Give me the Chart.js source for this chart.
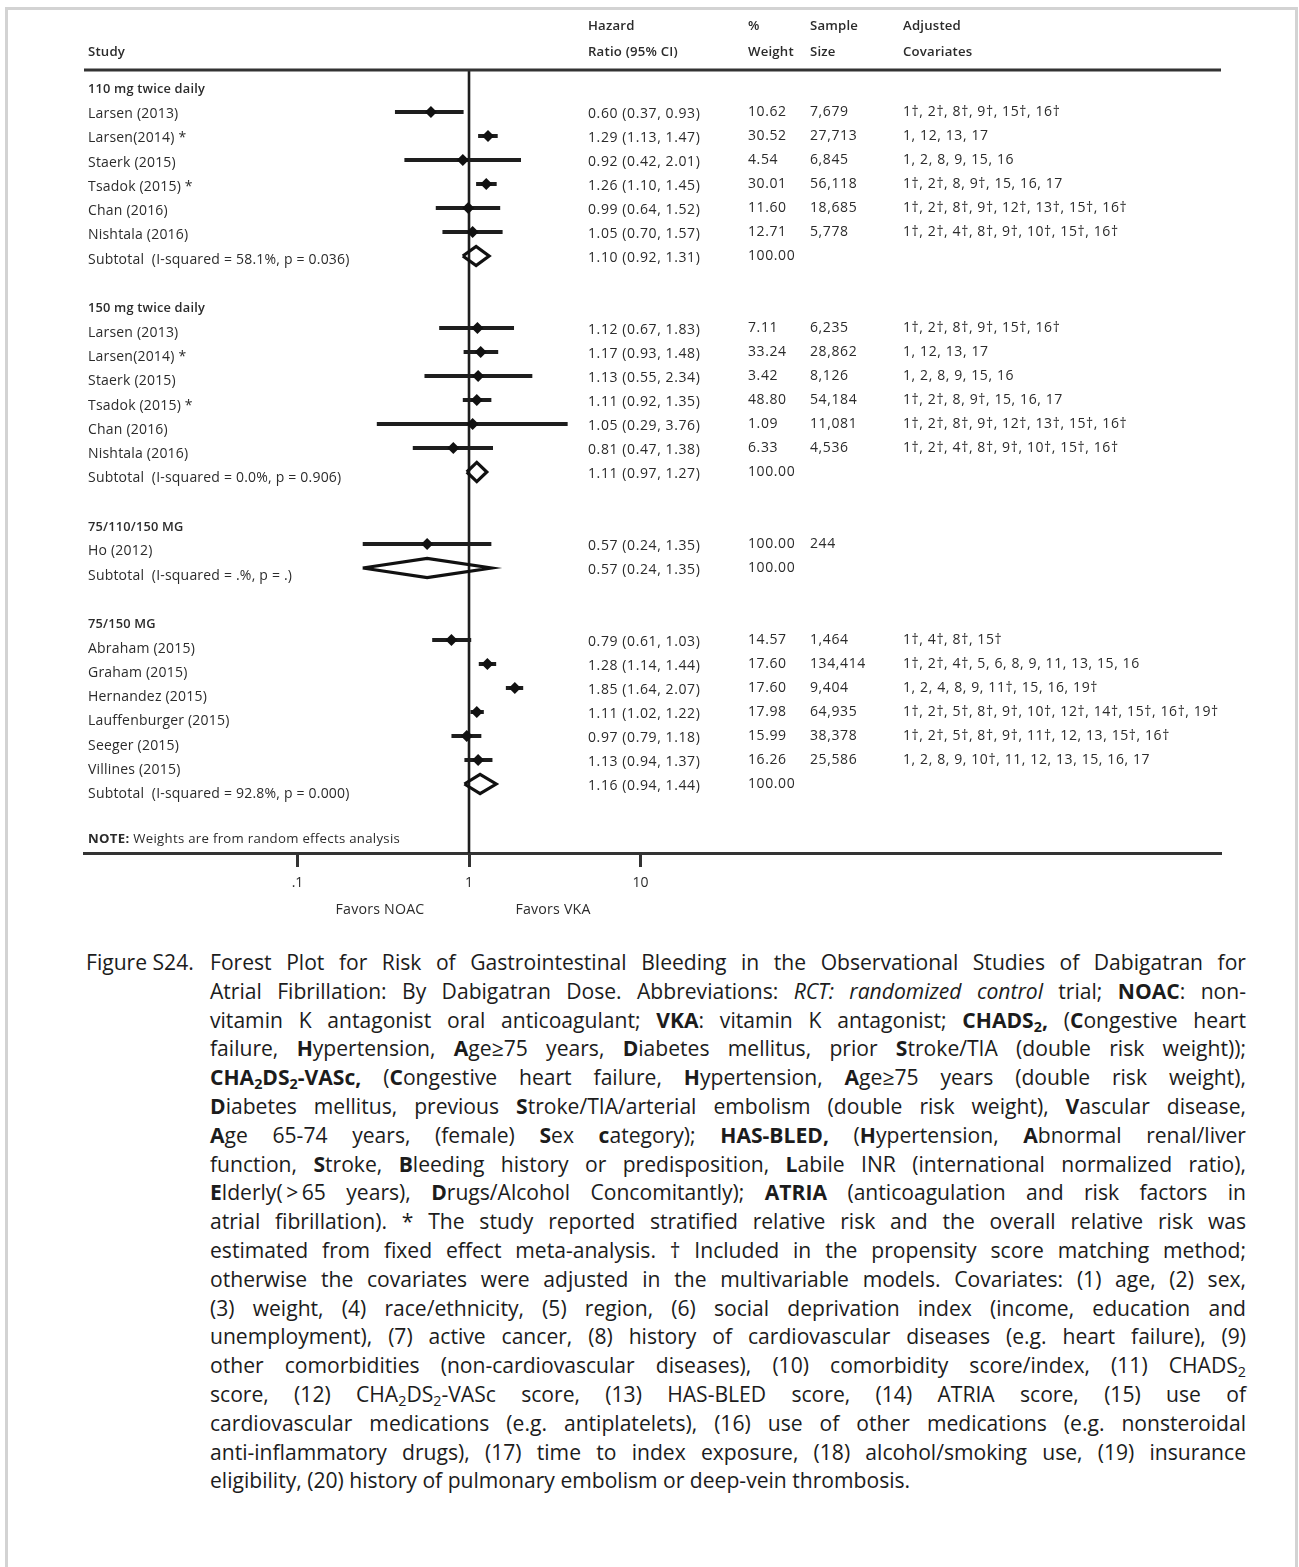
<!DOCTYPE html>
<html>
<head>
<meta charset="utf-8">
<script src="https://cdn.jsdelivr.net/npm/chart.js@4.4.1/dist/chart.umd.min.js"></script>
<style>
html,body{margin:0;padding:0;background:#fff;}
body{width:1299px;height:1567px;position:relative;overflow:hidden;font-family:"Open Sans",Lato,sans-serif;}
#frame{position:absolute;left:5px;top:7px;width:1293px;height:1620px;border:3px solid #d3d3d3;border-bottom:none;box-sizing:border-box;}
#chartCanvas{position:absolute;left:0;top:0;}
#caption{position:absolute;left:86px;top:948px;width:1160px;font-size:21.1px;color:#1c1c1c;line-height:28.8px;}
#caption .fig{position:absolute;left:0;top:0;white-space:nowrap;}
#caption .lines{position:absolute;left:124px;top:0;width:1036px;}
#caption .ln{display:block;width:max-content;white-space:nowrap;}
#caption b{font-weight:700;}
#caption sub{font-size:68%;vertical-align:-0.28em;line-height:0;}
</style>
</head>
<body>
<div id="frame"></div>
<canvas id="chartCanvas" width="1299" height="935"></canvas>
<div id="caption">
  <div class="fig">Figure S24.</div>
  <div class="lines">
    <span class="ln">Forest Plot for Risk of Gastrointestinal Bleeding in the Observational Studies of Dabigatran for</span>
    <span class="ln">Atrial Fibrillation: By Dabigatran Dose. Abbreviations: <i>RCT: randomized control</i> trial; <b>NOAC</b>: non-</span>
    <span class="ln">vitamin K antagonist oral anticoagulant; <b>VKA</b>: vitamin K antagonist; <b>CHADS<sub>2</sub>,</b> (<b>C</b>ongestive heart</span>
    <span class="ln">failure, <b>H</b>ypertension, <b>A</b>ge≥75 years, <b>D</b>iabetes mellitus, prior <b>S</b>troke/TIA (double risk weight));</span>
    <span class="ln"><b>CHA<sub>2</sub>DS<sub>2</sub>-VASc,</b> (<b>C</b>ongestive heart failure, <b>H</b>ypertension, <b>A</b>ge≥75 years (double risk weight),</span>
    <span class="ln"><b>D</b>iabetes mellitus, previous <b>S</b>troke/TIA/arterial embolism (double risk weight), <b>V</b>ascular disease,</span>
    <span class="ln"><b>A</b>ge 65-74 years, (female) <b>S</b>ex <b>c</b>ategory); <b>HAS-BLED,</b> (<b>H</b>ypertension, <b>A</b>bnormal renal/liver</span>
    <span class="ln">function, <b>S</b>troke, <b>B</b>leeding history or predisposition, <b>L</b>abile INR (international normalized ratio),</span>
    <span class="ln"><b>E</b>lderly(&thinsp;&gt;&thinsp;65 years), <b>D</b>rugs/Alcohol Concomitantly); <b>ATRIA</b> (anticoagulation and risk factors in</span>
    <span class="ln">atrial fibrillation). * The study reported stratified relative risk and the overall relative risk was</span>
    <span class="ln">estimated from fixed effect meta-analysis. † Included in the propensity score matching method;</span>
    <span class="ln">otherwise the covariates were adjusted in the multivariable models. Covariates: (1) age, (2) sex,</span>
    <span class="ln">(3) weight, (4) race/ethnicity, (5) region, (6) social deprivation index (income, education and</span>
    <span class="ln">unemployment), (7) active cancer, (8) history of cardiovascular diseases (e.g. heart failure), (9)</span>
    <span class="ln">other comorbidities (non-cardiovascular diseases), (10) comorbidity score/index, (11) CHADS<sub>2</sub></span>
    <span class="ln">score, (12) CHA<sub>2</sub>DS<sub>2</sub>-VASc score, (13) HAS-BLED score, (14) ATRIA score, (15) use of</span>
    <span class="ln">cardiovascular medications (e.g. antiplatelets), (16) use of other medications (e.g. nonsteroidal</span>
    <span class="ln">anti-inflammatory drugs), (17) time to index exposure, (18) alcohol/smoking use, (19) insurance</span>
    <span class="ln last">eligibility, (20) history of pulmonary embolism or deep-vein thrombosis.</span>
  </div>
</div>
<script>
// ---------------- DATA ----------------
const groupNames = ['110 mg twice daily', '150 mg twice daily', '75/110/150 MG', '75/150 MG'];
const studyGroup = [0,0,0,0,0,0, 1,1,1,1,1,1, 2, 3,3,3,3,3,3];
const studyNames = [
  'Larsen (2013)', 'Larsen(2014) *', 'Staerk (2015)', 'Tsadok (2015) *', 'Chan (2016)', 'Nishtala (2016)',
  'Larsen (2013)', 'Larsen(2014) *', 'Staerk (2015)', 'Tsadok (2015) *', 'Chan (2016)', 'Nishtala (2016)',
  'Ho (2012)',
  'Abraham (2015)', 'Graham (2015)', 'Hernandez (2015)', 'Lauffenburger (2015)', 'Seeger (2015)', 'Villines (2015)'
];
const hazardRatio = [0.60,1.29,0.92,1.26,0.99,1.05, 1.12,1.17,1.13,1.11,1.05,0.81, 0.57, 0.79,1.28,1.85,1.11,0.97,1.13];
const ciLower     = [0.37,1.13,0.42,1.10,0.64,0.70, 0.67,0.93,0.55,0.92,0.29,0.47, 0.24, 0.61,1.14,1.64,1.02,0.79,0.94];
const ciUpper     = [0.93,1.47,2.01,1.45,1.52,1.57, 1.83,1.48,2.34,1.35,3.76,1.38, 1.35, 1.03,1.44,2.07,1.22,1.18,1.37];
const weightPct   = ['10.62','30.52','4.54','30.01','11.60','12.71', '7.11','33.24','3.42','48.80','1.09','6.33', '100.00', '14.57','17.60','17.60','17.98','15.99','16.26'];
const sampleSize  = ['7,679','27,713','6,845','56,118','18,685','5,778', '6,235','28,862','8,126','54,184','11,081','4,536', '244', '1,464','134,414','9,404','64,935','38,378','25,586'];
const covariates  = [
  '1†, 2†, 8†, 9†, 15†, 16†',
  '1, 12, 13, 17',
  '1, 2, 8, 9, 15, 16',
  '1†, 2†, 8, 9†, 15, 16, 17',
  '1†, 2†, 8†, 9†, 12†, 13†, 15†, 16†',
  '1†, 2†, 4†, 8†, 9†, 10†, 15†, 16†',
  '1†, 2†, 8†, 9†, 15†, 16†',
  '1, 12, 13, 17',
  '1, 2, 8, 9, 15, 16',
  '1†, 2†, 8, 9†, 15, 16, 17',
  '1†, 2†, 8†, 9†, 12†, 13†, 15†, 16†',
  '1†, 2†, 4†, 8†, 9†, 10†, 15†, 16†',
  '',
  '1†, 4†, 8†, 15†',
  '1†, 2†, 4†, 5, 6, 8, 9, 11, 13, 15, 16',
  '1, 2, 4, 8, 9, 11†, 15, 16, 19†',
  '1†, 2†, 5†, 8†, 9†, 10†, 12†, 14†, 15†, 16†, 19†',
  '1†, 2†, 5†, 8†, 9†, 11†, 12, 13, 15†, 16†',
  '1, 2, 8, 9, 10†, 11, 12, 13, 15, 16, 17'
];
const subtotalLabels = [
  'Subtotal  (I-squared = 58.1%, p = 0.036)',
  'Subtotal  (I-squared = 0.0%, p = 0.906)',
  'Subtotal  (I-squared = .%, p = .)',
  'Subtotal  (I-squared = 92.8%, p = 0.000)'
];
const subtotalHR     = [1.10, 1.11, 0.57, 1.16];
const subtotalLower  = [0.92, 0.97, 0.24, 0.94];
const subtotalUpper  = [1.31, 1.27, 1.35, 1.44];
const subtotalWeight = ['100.00','100.00','100.00','100.00'];
const xTickValues = [0.1, 1, 10];
const xTickLabels = ['.1', '1', '10'];
const headerLine1 = ['', 'Hazard', '%', 'Sample', 'Adjusted'];
const headerLine2 = ['Study', 'Ratio (95% CI)', 'Weight', 'Size', 'Covariates'];
const noteBold = 'NOTE:';
const noteText = ' Weights are from random effects analysis';
const favorsLeft = 'Favors NOAC';
const favorsRight = 'Favors VKA';

// ---------------- ROW LAYOUT ----------------
const rowOfStudy = [];
const rowOfGroupHeader = [];
const rowOfSubtotal = [];
let r = 0;
groupNames.forEach((g, gi) => {
  rowOfGroupHeader.push(r); r++;
  studyGroup.forEach((sg, si) => { if (sg === gi) { rowOfStudy[si] = r; r++; } });
  rowOfSubtotal.push(r); r++;
  r++; // blank row
});
const noteRow = r;

const ROW_MIN = -0.75, ROW_MAX = 31.875;
const X_MIN = 0.005689, X_MAX = 24255;
const INK = '#1e1e1e';
const TXT = '#2b2b2b';
const FONT = '"Open Sans", Lato, sans-serif';

const fmt = v => v.toFixed(2);

// ---------------- DATASETS ----------------
const datasets = [];
datasets.push({
  label: 'studies',
  data: hazardRatio.map((v, i) => ({x: v, y: rowOfStudy[i]})),
  showLine: false,
  pointStyle: 'rectRot',
  pointRadius: 6,
  pointHoverRadius: 6,
  backgroundColor: '#111',
  borderColor: '#111',
  borderWidth: 0
});
hazardRatio.forEach((v, i) => {
  datasets.push({
    label: 'ci' + i,
    data: [{x: ciLower[i], y: rowOfStudy[i]}, {x: ciUpper[i], y: rowOfStudy[i]}],
    showLine: true, pointRadius: 0, borderColor: INK, borderWidth: 4, borderCapStyle: 'butt'
  });
});
subtotalHR.forEach((v, i) => {
  const k = rowOfSubtotal[i], h = 0.4;
  datasets.push({
    label: 'sub' + i,
    data: [
      {x: subtotalLower[i], y: k}, {x: v, y: k - h}, {x: subtotalUpper[i], y: k},
      {x: v, y: k + h}, {x: subtotalLower[i], y: k}
    ],
    showLine: true, pointRadius: 0, borderColor: '#111', borderWidth: 3.2,
    borderJoinStyle: 'miter', fill: false, tension: 0
  });
});
datasets.push({
  label: 'null',
  data: [{x: 1, y: ROW_MIN}, {x: 1, y: ROW_MAX}],
  showLine: true, pointRadius: 0, borderColor: INK, borderWidth: 2.6
});

// ---------------- TEXT PLUGIN ----------------
const tablePlugin = {
  id: 'tablePlugin',
  afterDraw(chart) {
    const ctx = chart.ctx, xs = chart.scales.x, ys = chart.scales.y, ca = chart.chartArea;
    const colX = [88, 588, 748, 810, 903];
    const rowY = k => ys.getPixelForValue(k);
    const labY = k => rowY(k) + 2 + (k - 1) * 0.3;
    const spacing = s => { if ('letterSpacing' in ctx) ctx.letterSpacing = s; };
    ctx.save();
    // header line
    ctx.strokeStyle = '#333'; ctx.lineWidth = 3;
    ctx.beginPath(); ctx.moveTo(ca.left, ca.top); ctx.lineTo(ca.right, ca.top); ctx.stroke();

    ctx.textBaseline = 'middle'; ctx.textAlign = 'left';
    ctx.fillStyle = TXT;
    // headers
    spacing('0.2px');
    ctx.font = '600 13.2px ' + FONT;
    headerLine1.forEach((t, i) => { if (t) ctx.fillText(t, colX[i], ca.top - 44); });
    headerLine2.forEach((t, i) => { if (t) ctx.fillText(t, colX[i], ca.top - 18); });
    // group headers
    ctx.font = '600 12.8px ' + FONT;
    groupNames.forEach((g, gi) => { ctx.fillText(g, colX[0], labY(rowOfGroupHeader[gi])); });
    // study labels
    ctx.font = '14px ' + FONT;
    spacing('0.2px');
    studyNames.forEach((n, i) => ctx.fillText(n, colX[0], labY(rowOfStudy[i])));
    subtotalLabels.forEach((t, i) => ctx.fillText(t, colX[0], labY(rowOfSubtotal[i])));
    // data columns
    spacing('0.6px');
    studyNames.forEach((n, i) => {
      const k = rowOfStudy[i];
      ctx.fillText(fmt(hazardRatio[i]) + ' (' + fmt(ciLower[i]) + ', ' + fmt(ciUpper[i]) + ')', colX[1], rowY(k) + 2);
      ctx.fillText(weightPct[i], colX[2], rowY(k));
      ctx.fillText(sampleSize[i], colX[3], rowY(k));
      ctx.fillText(covariates[i], colX[4], rowY(k));
    });
    subtotalLabels.forEach((t, i) => {
      const k = rowOfSubtotal[i];
      ctx.fillText(fmt(subtotalHR[i]) + ' (' + fmt(subtotalLower[i]) + ', ' + fmt(subtotalUpper[i]) + ')', colX[1], rowY(k) + 2);
      ctx.fillText(subtotalWeight[i], colX[2], rowY(k));
    });
    // note
    spacing('0.3px');
    ctx.font = '700 13.2px ' + FONT;
    const ny = labY(noteRow) - 4;
    ctx.fillText(noteBold, colX[0], ny);
    const bw = ctx.measureText(noteBold).width;
    ctx.font = '13.2px ' + FONT;
    ctx.fillText(noteText, colX[0] + bw, ny);
    // favors
    spacing('0.2px');
    ctx.font = '14.2px ' + FONT;
    ctx.textAlign = 'center';
    const x1 = xs.getPixelForValue(1);
    ctx.fillText(favorsLeft, x1 - 89, ca.bottom + 57);
    ctx.fillText(favorsRight, x1 + 84, ca.bottom + 57);
    spacing('0px');
    ctx.restore();
  }
};

new Chart(document.getElementById('chartCanvas'), {
  type: 'scatter',
  data: { datasets },
  options: {
    responsive: false,
    animation: false,
    devicePixelRatio: 1,
    layout: { padding: { left: 84, right: 78, top: 70, bottom: 22 } },
    plugins: { legend: { display: false }, tooltip: { enabled: false } },
    scales: {
      x: {
        type: 'logarithmic', position: 'bottom', min: X_MIN, max: X_MAX,
        afterBuildTicks: s => { s.ticks = xTickValues.map(v => ({ value: v })); },
        afterFit: s => { s.height = 60; },
        ticks: {
          callback: (v, i) => xTickLabels[i],
          font: { family: FONT, size: 14 }, color: TXT, padding: 8,
          maxRotation: 0, autoSkip: false
        },
        grid: { display: true, drawOnChartArea: false, drawTicks: true, tickLength: 14, tickWidth: 3, tickColor: '#333' },
        border: { display: true, width: 3, color: '#333' }
      },
      y: { type: 'linear', reverse: true, min: ROW_MIN, max: ROW_MAX, display: false }
    }
  },
  plugins: [tablePlugin]
});

// ---------------- CAPTION JUSTIFICATION ----------------
const LINE_W = 1036;
document.querySelectorAll('#caption .ln').forEach(el => {
  if (el.classList.contains('last')) return;
  const w = el.getBoundingClientRect().width;
  const spaces = (el.textContent.match(/ /g) || []).length;
  if (spaces > 0) el.style.wordSpacing = ((LINE_W - w) / spaces) + 'px';
});
</script>
</body>
</html>
